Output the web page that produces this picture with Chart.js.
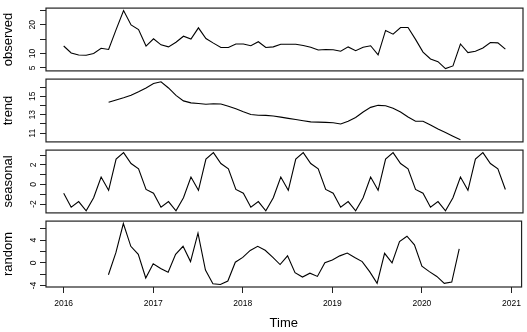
<!DOCTYPE html>
<html>
<head>
<meta charset="utf-8">
<script src="https://cdn.jsdelivr.net/npm/chart.js@4/dist/chart.umd.min.js"></script>
<style>
  html, body { margin: 0; padding: 0; background: #fff; }
  #wrap { position: relative; width: 527px; height: 332px; overflow: hidden; }
  .panel { position: absolute; left: 0; width: 527px; }
</style>
</head>
<body>
<div id="wrap">
  <div class="panel" style="top:0px;height:79px"><canvas id="c0"></canvas></div>
  <div class="panel" style="top:71px;height:79px"><canvas id="c1"></canvas></div>
  <div class="panel" style="top:142px;height:79px"><canvas id="c2"></canvas></div>
  <div class="panel" style="top:213px;height:119px"><canvas id="c3"></canvas></div>
</div>
<script>
// monthly series, Jan 2016 - Dec 2020 (decompose output)
const startYear = 2016;
const frequency = 12;

const observed = [
  12.6, 10.2, 9.5, 9.4, 10.0, 11.8, 11.4, 18.3, 24.9, 19.9, 18.3, 12.6,
  15.1, 13.0, 12.3, 13.9, 16.0, 15.0, 18.9, 15.2, 13.6, 12.1, 12.1, 13.3,
  13.3, 12.7, 14.1, 12.1, 12.3, 13.2, 13.2, 13.2, 12.8, 12.2, 11.2, 11.4,
  11.3, 10.8, 12.3, 11.0, 12.2, 12.7, 9.5, 18.0, 16.7, 19.0, 19.0, 14.9,
  10.5, 8.1, 7.2, 4.8, 5.7, 13.3, 10.3, 10.8, 11.9, 13.8, 13.7, 11.5
];

const trend = [
  null, null, null, null, null, null, 14.35, 14.6, 14.84, 15.1, 15.48, 15.9,
  16.38, 16.57, 15.9, 15.1, 14.5, 14.29, 14.22, 14.13, 14.19, 14.16, 13.93, 13.64,
  13.32, 13.03, 12.94, 12.93, 12.87, 12.74, 12.61, 12.48, 12.35, 12.23, 12.2, 12.17,
  12.13, 12.0, 12.3, 12.7, 13.3, 13.8, 14.02, 13.98, 13.7, 13.3, 12.75, 12.3,
  12.3, 11.9, 11.45, 11.07, 10.68, 10.3, null, null, null, null, null, null
];

const seasonal = [
  -0.9, -2.32, -1.75, -2.68, -1.35, 0.75, -0.6, 2.58, 3.24, 2.13, 1.59, -0.51,
  -0.9, -2.32, -1.75, -2.68, -1.35, 0.75, -0.6, 2.58, 3.24, 2.13, 1.59, -0.51,
  -0.9, -2.32, -1.75, -2.68, -1.35, 0.75, -0.6, 2.58, 3.24, 2.13, 1.59, -0.51,
  -0.9, -2.32, -1.75, -2.68, -1.35, 0.75, -0.6, 2.58, 3.24, 2.13, 1.59, -0.51,
  -0.9, -2.32, -1.75, -2.68, -1.35, 0.75, -0.6, 2.58, 3.24, 2.13, 1.59, -0.51
];

const random = [
  null, null, null, null, null, null, -2.1, 1.78, 6.9, 2.9, 1.5, -2.67,
  -0.17, -1.0, -1.67, 1.5, 2.9, 0.22, 5.22, -1.28, -3.67, -3.82, -3.2, 0.11,
  0.95, 2.17, 2.9, 2.2, 1.0, -0.3, 1.22, -1.72, -2.5, -1.83, -2.39, 0.0,
  0.5, 1.22, 1.72, 0.95, 0.22, -1.55, -3.6, 1.67, 0.0, 3.72, 4.67, 3.17,
  -0.6, -1.55, -2.39, -3.6, -3.38, 2.45, null, null, null, null, null, null
];

// axis ticks
const yearTicks = [2016, 2017, 2018, 2019, 2020, 2021];
const observedTicks = [5, 10, 15, 20, 25];
const observedLabels = [5, 10, 20];
const trendTicks = [11, 12, 13, 14, 15, 16];
const trendLabels = [11, 13, 15];
const seasonalTicks = [-2, -1, 0, 1, 2, 3];
const seasonalLabels = [-2, 0, 2];
const randomTicks = [-4, -2, 0, 2, 4, 6];
const randomLabels = [-4, 0, 4];

const FONT = "'Liberation Sans', Arial, Helvetica, sans-serif";
const INK = '#222';

function toPoints(values) {
  return values.map((v, i) => ({ x: startYear + i / frequency, y: v }));
}

// box around each panel like R's plot frame
const framePlugin = {
  id: 'frame',
  afterDraw(chart) {
    const { ctx, chartArea: a } = chart;
    ctx.save();
    ctx.strokeStyle = INK;
    ctx.lineWidth = 1.2;
    ctx.strokeRect(a.left, a.top, a.right - a.left, a.bottom - a.top);
    ctx.restore();
  }
};

const panels = [
  { id: 'c0', name: 'observed', values: observed, ticks: observedTicks, labels: observedLabels, min: 3.98, max: 25.74, pad: { top: 5, bottom: 4 } },
  { id: 'c1', name: 'trend', values: trend, ticks: trendTicks, labels: trendLabels, min: 10.06, max: 16.86, pad: { top: 4, bottom: 4 } },
  { id: 'c2', name: 'seasonal', values: seasonal, ticks: seasonalTicks, labels: seasonalLabels, min: -2.9, max: 3.5, pad: { top: 4, bottom: 4 } },
  { id: 'c3', name: 'random', values: random, ticks: randomTicks, labels: randomLabels, min: -4.25, max: 7.33, pad: { top: 4, bottom: 0 } }
];

panels.forEach((p, idx) => {
  const isLast = idx === panels.length - 1;
  new Chart(document.getElementById(p.id), {
    type: 'line',
    data: {
      datasets: [{
        data: toPoints(p.values),
        borderColor: '#000',
        borderWidth: 1.1,
        pointRadius: 0,
        tension: 0,
        spanGaps: false
      }]
    },
    options: {
      responsive: true,
      maintainAspectRatio: false,
      animation: false,
      devicePixelRatio: 1,
      layout: { padding: { left: 0, right: 4, top: p.pad.top, bottom: p.pad.bottom } },
      plugins: { legend: { display: false }, tooltip: { enabled: false } },
      scales: {
        x: {
          type: 'linear',
          display: isLast,
          min: 2015.803,
          max: 2021.113,
          afterBuildTicks: s => { s.ticks = yearTicks.map(v => ({ value: v })); },
          afterFit: s => { s.height = isLast ? 45 : 0; },
          grid: { drawOnChartArea: false, tickLength: 6, color: INK },
          border: { display: false },
          ticks: {
            autoSkip: false,
            maxRotation: 0,
            padding: 6,
            color: '#000',
            font: { family: FONT, size: 8.5 },
            callback: v => String(v)
          },
          title: {
            display: true,
            text: 'Time',
            color: '#000',
            font: { family: FONT, size: 13 },
            padding: { top: 0, bottom: 1 }
          }
        },
        y: {
          min: p.min,
          max: p.max,
          afterBuildTicks: s => { s.ticks = p.ticks.map(v => ({ value: v })); },
          afterFit: s => { s.width = 46; },
          grid: { drawOnChartArea: false, tickLength: 6, color: INK },
          border: { display: false },
          ticks: {
            autoSkip: false,
            minRotation: 90,
            maxRotation: 90,
            crossAlign: 'center',
            padding: 3,
            color: '#000',
            font: { family: FONT, size: 8.5 },
            callback: v => p.labels.includes(v) ? String(v) : ''
          },
          title: {
            display: true,
            text: p.name,
            color: '#000',
            font: { family: FONT, size: 13 },
            padding: { top: 1, bottom: 0 }
          }
        }
      }
    },
    plugins: [framePlugin]
  });
});
</script>
</body>
</html>
